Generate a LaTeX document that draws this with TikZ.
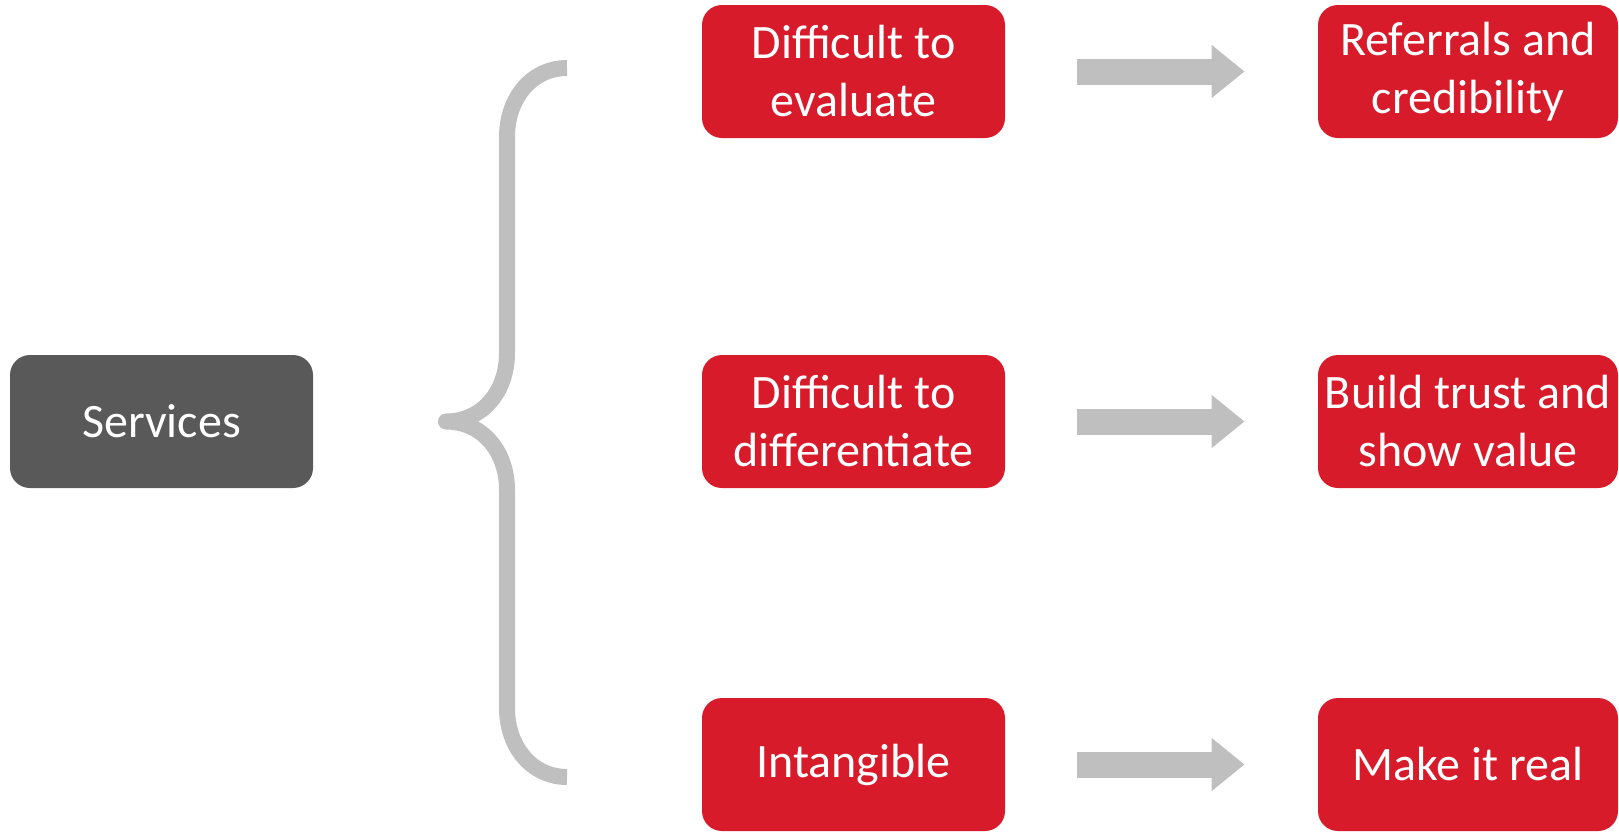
\documentclass[tikz,border=0pt]{standalone}
\usepackage{fontspec}
\setmainfont{Carlito}
\usepackage{tikz}
\usetikzlibrary{arrows.meta}
\definecolor{boxred}{RGB}{216,27,42}
\definecolor{darkgrey}{RGB}{89,89,89}
\definecolor{palegrey}{RGB}{191,191,191}

\begin{document}
\begin{tikzpicture}[x=0.5pt, y=-0.5pt,
	box/.style={rounded corners=10pt, inner sep=0pt, minimum height=66.5pt, text=white,
		font=\fontsize{24}{29}\selectfont, align=center},
	redbox/.style={box, fill=boxred, minimum width=151.5pt},
	outbox/.style={box, fill=boxred, minimum width=150pt},
	blockarrow/.style={draw=palegrey, line width=13pt, shorten <=36pt, shorten >=36.5pt,
		-{Triangle[width=25.5pt, length=16.5pt, fill=palegrey]}}]

	\useasboundingbox (0,0) rectangle (1619,831);

	% main box
	\node[box, fill=darkgrey, minimum width=151.5pt] (serv) at (161.5,421.5) {Services};

	% curly brace
	\draw[palegrey, line width=8pt, line join=round] (567,68) .. controls (532,68) and (507,98) .. (507,137)
		-- (507,353) .. controls (507,392) and (482,421.5) .. (446,421.5)
		.. controls (482,421.5) and (507,451) .. (507,490)
		-- (507,708) .. controls (507,747) and (532,777) .. (567,777);

	% characteristics
	\node[redbox] (eval) at (853.5,71.5) {Difficult to\\evaluate};
	\node[redbox] (diff) at (853.5,421.5) {Difficult to\\differentiate};
	\node[redbox] (intang) at (853.5,764.5) {Intangible};

	% responses
	\node[outbox] (refer) at (1468,71.5) {Referrals and\\credibility};
	\node[outbox] (trust) at (1468,421.5) {Build trust and\\show value};
	\node[outbox] (real) at (1468,764.5) {Make it real};

	% arrows
	\draw[blockarrow] (eval) -- (refer);
	\draw[blockarrow] (diff) -- (trust);
	\draw[blockarrow] (intang) -- (real);

\end{tikzpicture}
\end{document}
